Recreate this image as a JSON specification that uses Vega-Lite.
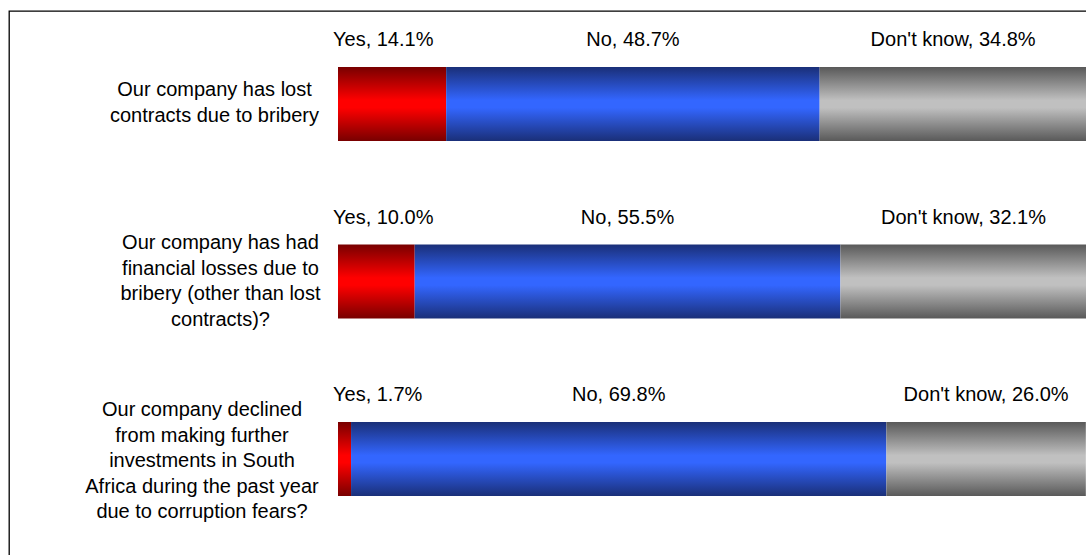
{
  "$schema": "https://vega.github.io/schema/vega-lite/v6.json",
  "autosize": "none",
  "padding": {"left": 9, "top": 11, "right": 0, "bottom": 0},
  "width": 1100,
  "height": 560,
  "background": "white",
  "config": {
    "view": {"stroke": "#000000", "strokeWidth": 1.3},
    "font": "Liberation Sans"
  },
  "data": {
    "values": [
      {"question": "Our company has lost|contracts due to bribery", "answer": "Yes", "pct": 14.1},
      {"question": "Our company has lost|contracts due to bribery", "answer": "No", "pct": 48.7},
      {"question": "Our company has lost|contracts due to bribery", "answer": "Don't know", "pct": 34.8},
      {"question": "Our company has had|financial losses due to|bribery (other than lost|contracts)?", "answer": "Yes", "pct": 10.0},
      {"question": "Our company has had|financial losses due to|bribery (other than lost|contracts)?", "answer": "No", "pct": 55.5},
      {"question": "Our company has had|financial losses due to|bribery (other than lost|contracts)?", "answer": "Don't know", "pct": 32.1},
      {"question": "Our company declined|from making further|investments in South|Africa during the past year|due to corruption fears?", "answer": "Yes", "pct": 1.7},
      {"question": "Our company declined|from making further|investments in South|Africa during the past year|due to corruption fears?", "answer": "No", "pct": 69.8},
      {"question": "Our company declined|from making further|investments in South|Africa during the past year|due to corruption fears?", "answer": "Don't know", "pct": 26.0}
    ]
  },
  "transform": [
    {"stack": "pct", "groupby": ["question"], "sort": [{"field": "answer", "order": "descending"}], "as": ["x0", "x1"]},
    {"calculate": "(datum.x0 + datum.x1) / 2", "as": "xmid"},
    {"calculate": "datum.answer + ', ' + format(datum.pct, '.1f') + '%'", "as": "label"}
  ],
  "encoding": {
    "y": {
      "field": "question",
      "type": "nominal",
      "sort": null,
      "scale": {"range": [4.3, 536.8], "paddingInner": 0.583, "paddingOuter": 0.2915},
      "axis": {
        "title": null,
        "domain": false,
        "ticks": false,
        "offset": -202,
        "labelAlign": "center",
        "labelBaseline": "middle",
        "labelFontSize": 20,
        "labelFont": "Liberation Sans",
        "labelColor": "#000000",
        "labelLineHeight": 25.5,
        "labelLimit": 500,
        "labelExpr": "split(datum.value, '|')",
        "labelPadding": {
          "condition": [
            {"test": "datum.value === 'Our company has lost|contracts due to bribery'", "value": -3},
            {"test": "datum.value === 'Our company has had|financial losses due to|bribery (other than lost|contracts)?'", "value": -9}
          ],
          "value": 9.5
        },
        "labelOffset": {
          "condition": [
            {"test": "datum.value === 'Our company has lost|contracts due to bribery'", "value": -14},
            {"test": "datum.value === 'Our company has had|financial losses due to|bribery (other than lost|contracts)?'", "value": -38.5}
          ],
          "value": -49
        }
      }
    }
  },
  "layer": [
    {
      "transform": [{"filter": "datum.answer === 'Yes'"}],
      "mark": {"type": "bar", "color": {"gradient": "linear", "x1": 0, "y1": 0, "x2": 0, "y2": 1, "stops": [
        {"offset": 0, "color": "#780000"}, {"offset": 0.45, "color": "#ff0000"}, {"offset": 0.55, "color": "#ff0000"}, {"offset": 1, "color": "#780000"}]}},
      "encoding": {
        "x": {"field": "x0", "type": "quantitative", "scale": {"domain": [0, 100], "range": [329, 1096]}, "axis": null},
        "x2": {"field": "x1"}
      }
    },
    {
      "transform": [{"filter": "datum.answer === 'No'"}],
      "mark": {"type": "bar", "color": {"gradient": "linear", "x1": 0, "y1": 0, "x2": 0, "y2": 1, "stops": [
        {"offset": 0, "color": "#1a2f78"}, {"offset": 0.45, "color": "#3366ff"}, {"offset": 0.55, "color": "#3366ff"}, {"offset": 1, "color": "#1a2f78"}]}},
      "encoding": {
        "x": {"field": "x0", "type": "quantitative", "scale": {"domain": [0, 100], "range": [329, 1096]}, "axis": null},
        "x2": {"field": "x1"}
      }
    },
    {
      "transform": [{"filter": "datum.answer === \"Don't know\""}],
      "mark": {"type": "bar", "color": {"gradient": "linear", "x1": 0, "y1": 0, "x2": 0, "y2": 1, "stops": [
        {"offset": 0, "color": "#595959"}, {"offset": 0.45, "color": "#c0c0c0"}, {"offset": 0.55, "color": "#c0c0c0"}, {"offset": 1, "color": "#595959"}]}},
      "encoding": {
        "x": {"field": "x0", "type": "quantitative", "scale": {"domain": [0, 100], "range": [329, 1096]}, "axis": null},
        "x2": {"field": "x1"}
      }
    },
    {
      "transform": [{"filter": "datum.answer === 'Yes'"}],
      "mark": {"type": "text", "align": "left", "baseline": "middle", "dx": -5, "dy": -64, "fontSize": 20, "font": "Liberation Sans", "color": "#000000"},
      "encoding": {
        "x": {"field": "x0", "type": "quantitative", "scale": {"domain": [0, 100], "range": [329, 1096]}, "axis": null},
        "text": {"field": "label"}
      }
    },
    {
      "transform": [{"filter": "datum.answer !== 'Yes'"}],
      "mark": {"type": "text", "align": "center", "baseline": "middle", "dy": -64, "fontSize": 20, "font": "Liberation Sans", "color": "#000000"},
      "encoding": {
        "x": {"field": "xmid", "type": "quantitative", "scale": {"domain": [0, 100], "range": [329, 1096]}, "axis": null},
        "text": {"field": "label"}
      }
    }
  ]
}
